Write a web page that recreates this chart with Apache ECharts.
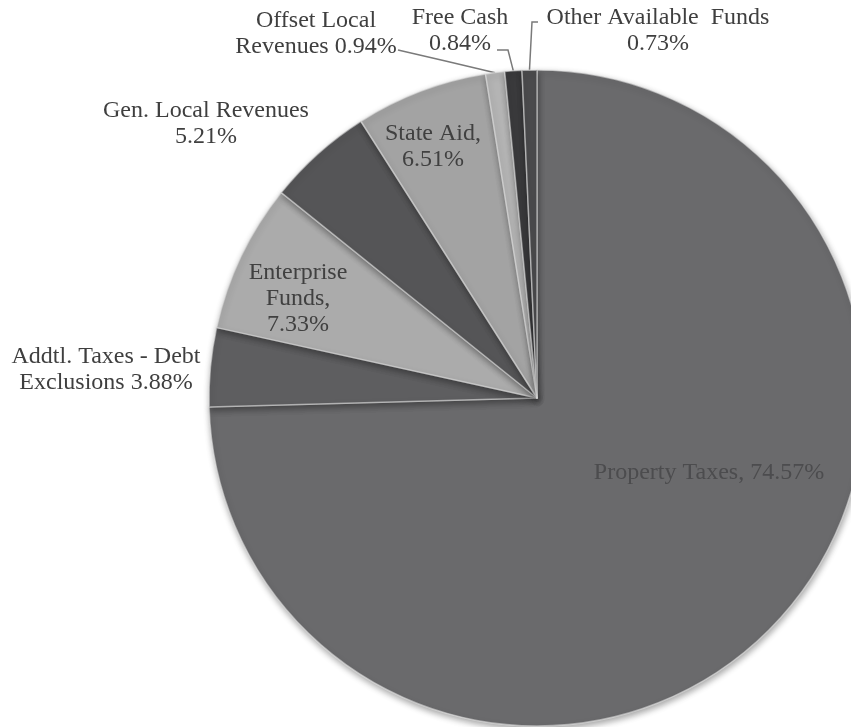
<!DOCTYPE html>
<html>
<head>
<meta charset="utf-8">
<script src="https://cdn.jsdelivr.net/npm/echarts@6/dist/echarts.min.js"></script>
<style>
  html, body { margin: 0; padding: 0; background: #ffffff; }
  #chart { width: 851px; height: 727px; }
</style>
</head>
<body>
<div id="chart"></div>
<script>
// ---- data ----
var categories = [
  'Property Taxes',
  'Addtl. Taxes - Debt Exclusions',
  'Enterprise Funds',
  'Gen. Local Revenues',
  'State Aid',
  'Offset Local Revenues',
  'Free Cash',
  'Other Available Funds'
];
var values = [74.57, 3.88, 7.33, 5.21, 6.51, 0.94, 0.84, 0.73];
var labelTexts = [
  'Property Taxes, 74.57%',
  'Addtl. Taxes - Debt\nExclusions 3.88%',
  'Enterprise\nFunds,\n7.33%',
  'Gen. Local Revenues\n5.21%',
  'State Aid,\n6.51%',
  'Offset Local\nRevenues 0.94%',
  'Free Cash\n0.84%',
  'Other Available  Funds\n0.73%'
];

// ---- styling ----
var sliceColors = ['#6a6a6c', '#5e5e60', '#ababab', '#555557', '#a3a3a3', '#b4b4b4', '#3a3a3c', '#4b4b4d'];
var insideLabel = [true, false, true, false, true, false, false, false];
var labelColors = ['#4c4c4e', '#3f3f3f', '#404040', '#3f3f3f', '#404040', '#3f3f3f', '#3f3f3f', '#3f3f3f'];
// label anchor placement (x, y, align)
var labelPlace = [
  [709, 473, 'center'],
  [106, 370, 'center'],
  [298, 299, 'center'],
  [206, 124, 'center'],
  [433, 147, 'center'],
  [316, 34, 'center'],
  [460, 31, 'center'],
  [658, 31, 'center']
];

var chart = echarts.init(document.getElementById('chart'), null, { renderer: 'canvas' });

var seriesData = categories.map(function (c, i) {
  var hasLine = (i >= 5);
  return {
    name: c,
    value: values[i],
    itemStyle: { color: sliceColors[i] },
    label: {
      show: true,
      position: insideLabel[i] ? 'inside' : 'outside',
      color: labelColors[i]
    },
    labelLine: {
      show: hasLine,
      lineStyle: { color: '#7a7a7a', width: 1.5 }
    }
  };
});

chart.setOption({
  backgroundColor: '#ffffff',
  animation: false,
  series: [{
    type: 'pie',
    center: [537, 398],
    radius: [0, 328],
    startAngle: 90,
    clockwise: true,
    avoidLabelOverlap: false,
    data: seriesData,
    itemStyle: {
      borderColor: 'rgba(230,230,230,0.55)',
      borderWidth: 1.5,
      shadowBlur: 6,
      shadowColor: 'rgba(0,0,0,0.35)',
      shadowOffsetX: 1,
      shadowOffsetY: 3
    },
    label: {
      fontFamily: 'Liberation Serif',
      fontSize: 24,
      lineHeight: 26,
      formatter: function (p) { return labelTexts[p.dataIndex]; }
    },
    labelLine: { length: 10, length2: 10 },
    emphasis: { disabled: true },
    labelLayout: function (params) {
      var i = params.dataIndex;
      var pl = labelPlace[i];
      var res = { x: pl[0], y: pl[1], align: pl[2], verticalAlign: 'middle' };
      var pts = params.labelLinePoints;
      if (pts && pts.length) {
        var e = pts[0];
        if (i === 5) {
          res.labelLinePoints = [[398, 50], [(398 + e[0]) / 2, (50 + e[1]) / 2], [e[0], e[1]]];
        } else if (i === 6) {
          res.labelLinePoints = [[497, 50], [508, 50], [e[0], e[1]]];
        } else if (i === 7) {
          res.labelLinePoints = [[538, 22], [532, 22], [e[0], e[1]]];
        }
      }
      return res;
    }
  }]
});
</script>
</body>
</html>
